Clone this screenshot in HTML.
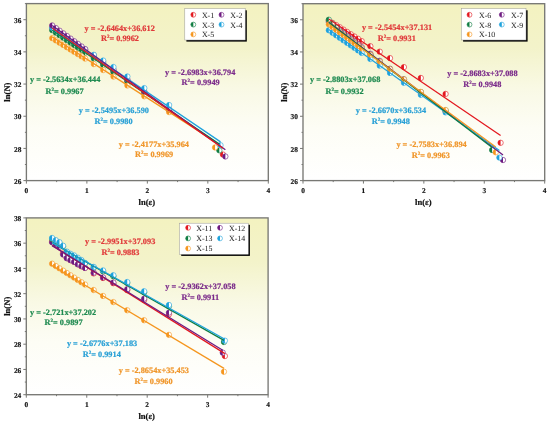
<!DOCTYPE html><html><head><meta charset="utf-8"><style>html,body{margin:0;padding:0;background:#fff;}svg{display:block;will-change:transform;}text{font-family:"Liberation Serif",serif;text-rendering:geometricPrecision;}</style></head><body><svg width="550" height="425" viewBox="0 0 550 425"><defs><linearGradient id="bg" x1="0" y1="0" x2="0" y2="1"><stop offset="0" stop-color="#f3f2c0"/><stop offset="0.25" stop-color="#f3f3ca"/><stop offset="0.48" stop-color="#f9f9e5"/><stop offset="0.7" stop-color="#fdfdf5"/><stop offset="1" stop-color="#ffffff"/></linearGradient></defs><rect width="550" height="425" fill="#fff"/><rect x="26.4" y="3.6" width="241.90" height="177.00" fill="url(#bg)"/><circle cx="52.22" cy="28.03" r="2.7" fill="#fff" stroke="#e3171e" stroke-width="0.6"/><path d="M52.22,25.33A2.7,2.7 0 0 0 52.22,30.73Z" fill="#e3171e"/><circle cx="55.88" cy="30.60" r="2.7" fill="#fff" stroke="#e3171e" stroke-width="0.6"/><path d="M55.88,27.90A2.7,2.7 0 0 0 55.88,33.30Z" fill="#e3171e"/><circle cx="59.54" cy="33.18" r="2.7" fill="#fff" stroke="#e3171e" stroke-width="0.6"/><path d="M59.54,30.48A2.7,2.7 0 0 0 59.54,35.88Z" fill="#e3171e"/><circle cx="63.20" cy="35.76" r="2.7" fill="#fff" stroke="#e3171e" stroke-width="0.6"/><path d="M63.20,33.06A2.7,2.7 0 0 0 63.20,38.46Z" fill="#e3171e"/><circle cx="66.86" cy="38.33" r="2.7" fill="#fff" stroke="#e3171e" stroke-width="0.6"/><path d="M66.86,35.63A2.7,2.7 0 0 0 66.86,41.03Z" fill="#e3171e"/><circle cx="70.52" cy="40.91" r="2.7" fill="#fff" stroke="#e3171e" stroke-width="0.6"/><path d="M70.52,38.21A2.7,2.7 0 0 0 70.52,43.61Z" fill="#e3171e"/><circle cx="74.18" cy="43.48" r="2.7" fill="#fff" stroke="#e3171e" stroke-width="0.6"/><path d="M74.18,40.78A2.7,2.7 0 0 0 74.18,46.18Z" fill="#e3171e"/><circle cx="77.83" cy="46.06" r="2.7" fill="#fff" stroke="#e3171e" stroke-width="0.6"/><path d="M77.83,43.36A2.7,2.7 0 0 0 77.83,48.76Z" fill="#e3171e"/><circle cx="81.49" cy="48.64" r="2.7" fill="#fff" stroke="#e3171e" stroke-width="0.6"/><path d="M81.49,45.94A2.7,2.7 0 0 0 81.49,51.34Z" fill="#e3171e"/><circle cx="85.15" cy="51.21" r="2.7" fill="#fff" stroke="#e3171e" stroke-width="0.6"/><path d="M85.15,48.51A2.7,2.7 0 0 0 85.15,53.91Z" fill="#e3171e"/><circle cx="93.83" cy="57.32" r="2.7" fill="#fff" stroke="#e3171e" stroke-width="0.6"/><path d="M93.83,54.62A2.7,2.7 0 0 0 93.83,60.02Z" fill="#e3171e"/><circle cx="103.20" cy="63.92" r="2.7" fill="#fff" stroke="#e3171e" stroke-width="0.6"/><path d="M103.20,61.22A2.7,2.7 0 0 0 103.20,66.62Z" fill="#e3171e"/><circle cx="113.48" cy="71.16" r="2.7" fill="#fff" stroke="#e3171e" stroke-width="0.6"/><path d="M113.48,68.46A2.7,2.7 0 0 0 113.48,73.86Z" fill="#e3171e"/><circle cx="127.39" cy="80.96" r="2.7" fill="#fff" stroke="#e3171e" stroke-width="0.6"/><path d="M127.39,78.26A2.7,2.7 0 0 0 127.39,83.66Z" fill="#e3171e"/><circle cx="144.33" cy="92.88" r="2.7" fill="#fff" stroke="#e3171e" stroke-width="0.6"/><path d="M144.33,90.18A2.7,2.7 0 0 0 144.33,95.58Z" fill="#e3171e"/><circle cx="169.12" cy="110.34" r="2.7" fill="#fff" stroke="#e3171e" stroke-width="0.6"/><path d="M169.12,107.64A2.7,2.7 0 0 0 169.12,113.04Z" fill="#e3171e"/><circle cx="222.94" cy="154.53" r="2.7" fill="#fff" stroke="#e3171e" stroke-width="0.6"/><path d="M222.94,151.83A2.7,2.7 0 0 0 222.94,157.23Z" fill="#e3171e"/><circle cx="52.22" cy="30.16" r="2.7" fill="#fff" stroke="#0f7d42" stroke-width="0.6"/><path d="M52.22,27.46A2.7,2.7 0 0 0 52.22,32.86Z" fill="#0f7d42"/><circle cx="55.88" cy="32.65" r="2.7" fill="#fff" stroke="#0f7d42" stroke-width="0.6"/><path d="M55.88,29.95A2.7,2.7 0 0 0 55.88,35.35Z" fill="#0f7d42"/><circle cx="59.54" cy="35.15" r="2.7" fill="#fff" stroke="#0f7d42" stroke-width="0.6"/><path d="M59.54,32.45A2.7,2.7 0 0 0 59.54,37.85Z" fill="#0f7d42"/><circle cx="63.20" cy="37.65" r="2.7" fill="#fff" stroke="#0f7d42" stroke-width="0.6"/><path d="M63.20,34.95A2.7,2.7 0 0 0 63.20,40.35Z" fill="#0f7d42"/><circle cx="66.86" cy="40.14" r="2.7" fill="#fff" stroke="#0f7d42" stroke-width="0.6"/><path d="M66.86,37.44A2.7,2.7 0 0 0 66.86,42.84Z" fill="#0f7d42"/><circle cx="70.52" cy="42.64" r="2.7" fill="#fff" stroke="#0f7d42" stroke-width="0.6"/><path d="M70.52,39.94A2.7,2.7 0 0 0 70.52,45.34Z" fill="#0f7d42"/><circle cx="74.18" cy="45.13" r="2.7" fill="#fff" stroke="#0f7d42" stroke-width="0.6"/><path d="M74.18,42.43A2.7,2.7 0 0 0 74.18,47.83Z" fill="#0f7d42"/><circle cx="77.83" cy="47.63" r="2.7" fill="#fff" stroke="#0f7d42" stroke-width="0.6"/><path d="M77.83,44.93A2.7,2.7 0 0 0 77.83,50.33Z" fill="#0f7d42"/><circle cx="81.49" cy="50.12" r="2.7" fill="#fff" stroke="#0f7d42" stroke-width="0.6"/><path d="M81.49,47.42A2.7,2.7 0 0 0 81.49,52.82Z" fill="#0f7d42"/><circle cx="85.15" cy="52.62" r="2.7" fill="#fff" stroke="#0f7d42" stroke-width="0.6"/><path d="M85.15,49.92A2.7,2.7 0 0 0 85.15,55.32Z" fill="#0f7d42"/><circle cx="93.83" cy="58.54" r="2.7" fill="#fff" stroke="#0f7d42" stroke-width="0.6"/><path d="M93.83,55.84A2.7,2.7 0 0 0 93.83,61.24Z" fill="#0f7d42"/><circle cx="103.20" cy="64.93" r="2.7" fill="#fff" stroke="#0f7d42" stroke-width="0.6"/><path d="M103.20,62.23A2.7,2.7 0 0 0 103.20,67.63Z" fill="#0f7d42"/><circle cx="113.48" cy="71.94" r="2.7" fill="#fff" stroke="#0f7d42" stroke-width="0.6"/><path d="M113.48,69.24A2.7,2.7 0 0 0 113.48,74.64Z" fill="#0f7d42"/><circle cx="127.39" cy="81.43" r="2.7" fill="#fff" stroke="#0f7d42" stroke-width="0.6"/><path d="M127.39,78.73A2.7,2.7 0 0 0 127.39,84.13Z" fill="#0f7d42"/><circle cx="144.33" cy="92.98" r="2.7" fill="#fff" stroke="#0f7d42" stroke-width="0.6"/><path d="M144.33,90.28A2.7,2.7 0 0 0 144.33,95.68Z" fill="#0f7d42"/><circle cx="169.12" cy="109.89" r="2.7" fill="#fff" stroke="#0f7d42" stroke-width="0.6"/><path d="M169.12,107.19A2.7,2.7 0 0 0 169.12,112.59Z" fill="#0f7d42"/><circle cx="219.32" cy="150.35" r="2.7" fill="#fff" stroke="#0f7d42" stroke-width="0.6"/><path d="M219.32,147.65A2.7,2.7 0 0 0 219.32,153.05Z" fill="#0f7d42"/><circle cx="52.22" cy="27.69" r="2.7" fill="#fff" stroke="#1ea2dc" stroke-width="0.6"/><path d="M52.22,24.99A2.7,2.7 0 0 0 52.22,30.39Z" fill="#1ea2dc"/><circle cx="55.88" cy="30.10" r="2.7" fill="#fff" stroke="#1ea2dc" stroke-width="0.6"/><path d="M55.88,27.40A2.7,2.7 0 0 0 55.88,32.80Z" fill="#1ea2dc"/><circle cx="59.54" cy="32.52" r="2.7" fill="#fff" stroke="#1ea2dc" stroke-width="0.6"/><path d="M59.54,29.82A2.7,2.7 0 0 0 59.54,35.22Z" fill="#1ea2dc"/><circle cx="63.20" cy="34.94" r="2.7" fill="#fff" stroke="#1ea2dc" stroke-width="0.6"/><path d="M63.20,32.24A2.7,2.7 0 0 0 63.20,37.64Z" fill="#1ea2dc"/><circle cx="66.86" cy="37.35" r="2.7" fill="#fff" stroke="#1ea2dc" stroke-width="0.6"/><path d="M66.86,34.65A2.7,2.7 0 0 0 66.86,40.05Z" fill="#1ea2dc"/><circle cx="70.52" cy="39.77" r="2.7" fill="#fff" stroke="#1ea2dc" stroke-width="0.6"/><path d="M70.52,37.07A2.7,2.7 0 0 0 70.52,42.47Z" fill="#1ea2dc"/><circle cx="74.18" cy="42.19" r="2.7" fill="#fff" stroke="#1ea2dc" stroke-width="0.6"/><path d="M74.18,39.49A2.7,2.7 0 0 0 74.18,44.89Z" fill="#1ea2dc"/><circle cx="77.83" cy="44.60" r="2.7" fill="#fff" stroke="#1ea2dc" stroke-width="0.6"/><path d="M77.83,41.90A2.7,2.7 0 0 0 77.83,47.30Z" fill="#1ea2dc"/><circle cx="81.49" cy="47.02" r="2.7" fill="#fff" stroke="#1ea2dc" stroke-width="0.6"/><path d="M81.49,44.32A2.7,2.7 0 0 0 81.49,49.72Z" fill="#1ea2dc"/><circle cx="85.15" cy="49.44" r="2.7" fill="#fff" stroke="#1ea2dc" stroke-width="0.6"/><path d="M85.15,46.74A2.7,2.7 0 0 0 85.15,52.14Z" fill="#1ea2dc"/><circle cx="52.22" cy="38.13" r="2.7" fill="#fff" stroke="#f5961e" stroke-width="0.6"/><path d="M52.22,35.43A2.7,2.7 0 0 0 52.22,40.83Z" fill="#f5961e"/><circle cx="55.88" cy="40.41" r="2.7" fill="#fff" stroke="#f5961e" stroke-width="0.6"/><path d="M55.88,37.71A2.7,2.7 0 0 0 55.88,43.11Z" fill="#f5961e"/><circle cx="59.54" cy="42.68" r="2.7" fill="#fff" stroke="#f5961e" stroke-width="0.6"/><path d="M59.54,39.98A2.7,2.7 0 0 0 59.54,45.38Z" fill="#f5961e"/><circle cx="63.20" cy="44.95" r="2.7" fill="#fff" stroke="#f5961e" stroke-width="0.6"/><path d="M63.20,42.25A2.7,2.7 0 0 0 63.20,47.65Z" fill="#f5961e"/><circle cx="66.86" cy="47.22" r="2.7" fill="#fff" stroke="#f5961e" stroke-width="0.6"/><path d="M66.86,44.52A2.7,2.7 0 0 0 66.86,49.92Z" fill="#f5961e"/><circle cx="70.52" cy="49.50" r="2.7" fill="#fff" stroke="#f5961e" stroke-width="0.6"/><path d="M70.52,46.80A2.7,2.7 0 0 0 70.52,52.20Z" fill="#f5961e"/><circle cx="74.18" cy="51.77" r="2.7" fill="#fff" stroke="#f5961e" stroke-width="0.6"/><path d="M74.18,49.07A2.7,2.7 0 0 0 74.18,54.47Z" fill="#f5961e"/><circle cx="77.83" cy="54.04" r="2.7" fill="#fff" stroke="#f5961e" stroke-width="0.6"/><path d="M77.83,51.34A2.7,2.7 0 0 0 77.83,56.74Z" fill="#f5961e"/><circle cx="81.49" cy="56.31" r="2.7" fill="#fff" stroke="#f5961e" stroke-width="0.6"/><path d="M81.49,53.61A2.7,2.7 0 0 0 81.49,59.01Z" fill="#f5961e"/><circle cx="85.15" cy="58.59" r="2.7" fill="#fff" stroke="#f5961e" stroke-width="0.6"/><path d="M85.15,55.89A2.7,2.7 0 0 0 85.15,61.29Z" fill="#f5961e"/><circle cx="93.83" cy="64.09" r="2.7" fill="#fff" stroke="#f5961e" stroke-width="0.6"/><path d="M93.83,61.39A2.7,2.7 0 0 0 93.83,66.79Z" fill="#f5961e"/><circle cx="103.20" cy="70.07" r="2.7" fill="#fff" stroke="#f5961e" stroke-width="0.6"/><path d="M103.20,67.37A2.7,2.7 0 0 0 103.20,72.77Z" fill="#f5961e"/><circle cx="113.48" cy="76.62" r="2.7" fill="#fff" stroke="#f5961e" stroke-width="0.6"/><path d="M113.48,73.92A2.7,2.7 0 0 0 113.48,79.32Z" fill="#f5961e"/><circle cx="127.39" cy="85.49" r="2.7" fill="#fff" stroke="#f5961e" stroke-width="0.6"/><path d="M127.39,82.79A2.7,2.7 0 0 0 127.39,88.19Z" fill="#f5961e"/><circle cx="144.33" cy="96.29" r="2.7" fill="#fff" stroke="#f5961e" stroke-width="0.6"/><path d="M144.33,93.59A2.7,2.7 0 0 0 144.33,98.99Z" fill="#f5961e"/><circle cx="169.12" cy="112.10" r="2.7" fill="#fff" stroke="#f5961e" stroke-width="0.6"/><path d="M169.12,109.40A2.7,2.7 0 0 0 169.12,114.80Z" fill="#f5961e"/><circle cx="215.08" cy="147.45" r="2.7" fill="#fff" stroke="#f5961e" stroke-width="0.6"/><path d="M215.08,144.75A2.7,2.7 0 0 0 215.08,150.15Z" fill="#f5961e"/><circle cx="52.22" cy="25.45" r="2.7" fill="#fff" stroke="#6e1a80" stroke-width="0.6"/><path d="M52.22,22.75A2.7,2.7 0 0 0 52.22,28.15Z" fill="#6e1a80"/><circle cx="55.88" cy="28.08" r="2.7" fill="#fff" stroke="#6e1a80" stroke-width="0.6"/><path d="M55.88,25.38A2.7,2.7 0 0 0 55.88,30.78Z" fill="#6e1a80"/><circle cx="59.54" cy="30.71" r="2.7" fill="#fff" stroke="#6e1a80" stroke-width="0.6"/><path d="M59.54,28.01A2.7,2.7 0 0 0 59.54,33.41Z" fill="#6e1a80"/><circle cx="63.20" cy="33.33" r="2.7" fill="#fff" stroke="#6e1a80" stroke-width="0.6"/><path d="M63.20,30.63A2.7,2.7 0 0 0 63.20,36.03Z" fill="#6e1a80"/><circle cx="66.86" cy="35.96" r="2.7" fill="#fff" stroke="#6e1a80" stroke-width="0.6"/><path d="M66.86,33.26A2.7,2.7 0 0 0 66.86,38.66Z" fill="#6e1a80"/><circle cx="70.52" cy="38.59" r="2.7" fill="#fff" stroke="#6e1a80" stroke-width="0.6"/><path d="M70.52,35.89A2.7,2.7 0 0 0 70.52,41.29Z" fill="#6e1a80"/><circle cx="74.18" cy="41.22" r="2.7" fill="#fff" stroke="#6e1a80" stroke-width="0.6"/><path d="M74.18,38.52A2.7,2.7 0 0 0 74.18,43.92Z" fill="#6e1a80"/><circle cx="77.83" cy="43.84" r="2.7" fill="#fff" stroke="#6e1a80" stroke-width="0.6"/><path d="M77.83,41.14A2.7,2.7 0 0 0 77.83,46.54Z" fill="#6e1a80"/><circle cx="81.49" cy="46.47" r="2.7" fill="#fff" stroke="#6e1a80" stroke-width="0.6"/><path d="M81.49,43.77A2.7,2.7 0 0 0 81.49,49.17Z" fill="#6e1a80"/><circle cx="85.15" cy="49.10" r="2.7" fill="#fff" stroke="#6e1a80" stroke-width="0.6"/><path d="M85.15,46.40A2.7,2.7 0 0 0 85.15,51.80Z" fill="#6e1a80"/><circle cx="93.83" cy="55.33" r="2.7" fill="#fff" stroke="#6e1a80" stroke-width="0.6"/><path d="M93.83,52.63A2.7,2.7 0 0 0 93.83,58.03Z" fill="#6e1a80"/><circle cx="103.20" cy="62.06" r="2.7" fill="#fff" stroke="#6e1a80" stroke-width="0.6"/><path d="M103.20,59.36A2.7,2.7 0 0 0 103.20,64.76Z" fill="#6e1a80"/><circle cx="113.48" cy="69.44" r="2.7" fill="#fff" stroke="#6e1a80" stroke-width="0.6"/><path d="M113.48,66.74A2.7,2.7 0 0 0 113.48,72.14Z" fill="#6e1a80"/><circle cx="127.39" cy="79.42" r="2.7" fill="#fff" stroke="#6e1a80" stroke-width="0.6"/><path d="M127.39,76.72A2.7,2.7 0 0 0 127.39,82.12Z" fill="#6e1a80"/><circle cx="144.33" cy="91.58" r="2.7" fill="#fff" stroke="#6e1a80" stroke-width="0.6"/><path d="M144.33,88.88A2.7,2.7 0 0 0 144.33,94.28Z" fill="#6e1a80"/><circle cx="169.12" cy="109.38" r="2.7" fill="#fff" stroke="#6e1a80" stroke-width="0.6"/><path d="M169.12,106.68A2.7,2.7 0 0 0 169.12,112.08Z" fill="#6e1a80"/><circle cx="225.36" cy="156.46" r="2.7" fill="#fff" stroke="#6e1a80" stroke-width="0.6"/><path d="M225.36,153.76A2.7,2.7 0 0 0 225.36,159.16Z" fill="#6e1a80"/><circle cx="93.83" cy="54.83" r="2.7" fill="#fff" stroke="#1ea2dc" stroke-width="0.6"/><path d="M93.83,52.13A2.7,2.7 0 0 0 93.83,57.53Z" fill="#1ea2dc"/><circle cx="103.20" cy="60.57" r="2.7" fill="#fff" stroke="#1ea2dc" stroke-width="0.6"/><path d="M103.20,57.87A2.7,2.7 0 0 0 103.20,63.27Z" fill="#1ea2dc"/><circle cx="113.48" cy="67.03" r="2.7" fill="#fff" stroke="#1ea2dc" stroke-width="0.6"/><path d="M113.48,64.33A2.7,2.7 0 0 0 113.48,69.73Z" fill="#1ea2dc"/><circle cx="127.39" cy="76.54" r="2.7" fill="#fff" stroke="#1ea2dc" stroke-width="0.6"/><path d="M127.39,73.84A2.7,2.7 0 0 0 127.39,79.24Z" fill="#1ea2dc"/><circle cx="144.33" cy="88.12" r="2.7" fill="#fff" stroke="#1ea2dc" stroke-width="0.6"/><path d="M144.33,85.42A2.7,2.7 0 0 0 144.33,90.82Z" fill="#1ea2dc"/><circle cx="169.12" cy="105.07" r="2.7" fill="#fff" stroke="#1ea2dc" stroke-width="0.6"/><path d="M169.12,102.37A2.7,2.7 0 0 0 169.12,107.77Z" fill="#1ea2dc"/><circle cx="220.52" cy="145.20" r="2.7" fill="#fff" stroke="#1ea2dc" stroke-width="0.6"/><path d="M220.52,142.50A2.7,2.7 0 0 0 220.52,147.90Z" fill="#1ea2dc"/><line x1="52.22" y1="36.88" x2="215.08" y2="141.65" stroke="#f5961e" stroke-width="1.25"/><line x1="52.22" y1="30.16" x2="219.32" y2="144.13" stroke="#0f7d42" stroke-width="1.25"/><line x1="52.22" y1="27.71" x2="220.52" y2="141.88" stroke="#1ea2dc" stroke-width="1.25"/><line x1="52.22" y1="25.45" x2="225.36" y2="149.76" stroke="#6e1a80" stroke-width="1.25"/><line x1="52.22" y1="28.03" x2="222.94" y2="148.24" stroke="#e3171e" stroke-width="1.25"/><rect x="26.4" y="3.6" width="241.90" height="177.00" fill="none" stroke="#787874" stroke-width="1.35"/><path d="M26.40,180.60v3.0M56.64,180.60v1.5M86.88,180.60v3.0M117.11,180.60v1.5M147.35,180.60v3.0M177.59,180.60v1.5M207.83,180.60v3.0M238.06,180.60v1.5M268.30,180.60v3.0M26.40,180.60h-3.0M26.40,164.51h-1.5M26.40,148.42h-3.0M26.40,132.33h-1.5M26.40,116.24h-3.0M26.40,100.15h-1.5M26.40,84.05h-3.0M26.40,67.96h-1.5M26.40,51.87h-3.0M26.40,35.78h-1.5M26.40,19.69h-3.0M26.40,3.60h-1.5" stroke="#787874" stroke-width="1" fill="none"/><text x="26.40" y="193.20" font-size="7.4" font-weight="bold" text-anchor="middle" fill="#111" stroke="#111" stroke-width="0.15">0</text><text x="86.88" y="193.20" font-size="7.4" font-weight="bold" text-anchor="middle" fill="#111" stroke="#111" stroke-width="0.15">1</text><text x="147.35" y="193.20" font-size="7.4" font-weight="bold" text-anchor="middle" fill="#111" stroke="#111" stroke-width="0.15">2</text><text x="207.83" y="193.20" font-size="7.4" font-weight="bold" text-anchor="middle" fill="#111" stroke="#111" stroke-width="0.15">3</text><text x="268.30" y="193.20" font-size="7.4" font-weight="bold" text-anchor="middle" fill="#111" stroke="#111" stroke-width="0.15">4</text><text x="21.40" y="183.80" font-size="7.4" font-weight="bold" text-anchor="end" fill="#111" stroke="#111" stroke-width="0.15">26</text><text x="21.40" y="151.62" font-size="7.4" font-weight="bold" text-anchor="end" fill="#111" stroke="#111" stroke-width="0.15">28</text><text x="21.40" y="119.44" font-size="7.4" font-weight="bold" text-anchor="end" fill="#111" stroke="#111" stroke-width="0.15">30</text><text x="21.40" y="87.25" font-size="7.4" font-weight="bold" text-anchor="end" fill="#111" stroke="#111" stroke-width="0.15">32</text><text x="21.40" y="55.07" font-size="7.4" font-weight="bold" text-anchor="end" fill="#111" stroke="#111" stroke-width="0.15">34</text><text x="21.40" y="22.89" font-size="7.4" font-weight="bold" text-anchor="end" fill="#111" stroke="#111" stroke-width="0.15">36</text><text x="146.85" y="204.80" font-size="8.6" font-weight="bold" text-anchor="middle" fill="#111" stroke="#111" stroke-width="0.2">ln(ε)</text><text transform="translate(10.30,92.10) rotate(-90)" font-size="8.6" font-weight="bold" text-anchor="middle" fill="#111" stroke="#111" stroke-width="0.2">ln(N)</text><text x="84.50" y="30.60" font-size="8.3" font-weight="bold" fill="#e03a3a" stroke="#e03a3a" stroke-width="0.2">y = -2.6464x+36.612</text><text x="100.90" y="40.60" font-size="8.3" font-weight="bold" fill="#e03a3a" stroke="#e03a3a" stroke-width="0.2">R<tspan font-size="5" dy="-3">2</tspan><tspan dy="3">= 0.9962</tspan></text><text x="165.00" y="74.60" font-size="8.3" font-weight="bold" fill="#7a2a8a" stroke="#7a2a8a" stroke-width="0.2">y = -2.6983x+36.794</text><text x="181.60" y="85.00" font-size="8.3" font-weight="bold" fill="#7a2a8a" stroke="#7a2a8a" stroke-width="0.2">R<tspan font-size="5" dy="-3">2</tspan><tspan dy="3">= 0.9949</tspan></text><text x="30.00" y="82.00" font-size="8.3" font-weight="bold" fill="#1e8a50" stroke="#1e8a50" stroke-width="0.2">y = -2.5634x+36.444</text><text x="45.50" y="93.80" font-size="8.3" font-weight="bold" fill="#1e8a50" stroke="#1e8a50" stroke-width="0.2">R<tspan font-size="5" dy="-3">2</tspan><tspan dy="3">= 0.9967</tspan></text><text x="78.70" y="112.90" font-size="8.3" font-weight="bold" fill="#28a0d6" stroke="#28a0d6" stroke-width="0.2">y = -2.5495x+36.590</text><text x="94.50" y="123.80" font-size="8.3" font-weight="bold" fill="#28a0d6" stroke="#28a0d6" stroke-width="0.2">R<tspan font-size="5" dy="-3">2</tspan><tspan dy="3">= 0.9980</tspan></text><text x="118.70" y="147.00" font-size="8.3" font-weight="bold" fill="#f0962a" stroke="#f0962a" stroke-width="0.2">y = -2.4177x+35.964</text><text x="135.10" y="157.20" font-size="8.3" font-weight="bold" fill="#f0962a" stroke="#f0962a" stroke-width="0.2">R<tspan font-size="5" dy="-3">2</tspan><tspan dy="3">= 0.9969</tspan></text><rect x="186.40" y="10.30" width="60.40" height="31.30" fill="#000"/><rect x="184.80" y="8.70" width="60.40" height="31.30" fill="#fff" stroke="#999" stroke-width="0.5"/><circle cx="193.30" cy="14.80" r="2.45" fill="#fff" stroke="#e3171e" stroke-width="0.6"/><path d="M193.30,12.35A2.45,2.45 0 0 0 193.30,17.25Z" fill="#e3171e"/><text x="201.90" y="17.70" font-size="7.9" fill="#1a1a1a">X-1</text><circle cx="221.50" cy="14.80" r="2.45" fill="#fff" stroke="#6e1a80" stroke-width="0.6"/><path d="M221.50,12.35A2.45,2.45 0 0 0 221.50,17.25Z" fill="#6e1a80"/><text x="230.20" y="17.70" font-size="7.9" fill="#1a1a1a">X-2</text><circle cx="193.30" cy="24.60" r="2.45" fill="#fff" stroke="#0f7d42" stroke-width="0.6"/><path d="M193.30,22.15A2.45,2.45 0 0 0 193.30,27.05Z" fill="#0f7d42"/><text x="201.90" y="27.50" font-size="7.9" fill="#1a1a1a">X-3</text><circle cx="221.50" cy="24.60" r="2.45" fill="#fff" stroke="#1ea2dc" stroke-width="0.6"/><path d="M221.50,22.15A2.45,2.45 0 0 0 221.50,27.05Z" fill="#1ea2dc"/><text x="230.20" y="27.50" font-size="7.9" fill="#1a1a1a">X-4</text><circle cx="193.30" cy="34.40" r="2.45" fill="#fff" stroke="#f5961e" stroke-width="0.6"/><path d="M193.30,31.95A2.45,2.45 0 0 0 193.30,36.85Z" fill="#f5961e"/><text x="201.90" y="37.30" font-size="7.9" fill="#1a1a1a">X-5</text><rect x="303.0" y="3.7" width="241.70" height="176.90" fill="url(#bg)"/><circle cx="328.80" cy="20.57" r="2.7" fill="#fff" stroke="#e3171e" stroke-width="0.6"/><path d="M328.80,17.87A2.7,2.7 0 0 0 328.80,23.27Z" fill="#e3171e"/><circle cx="332.46" cy="22.81" r="2.7" fill="#fff" stroke="#e3171e" stroke-width="0.6"/><path d="M332.46,20.11A2.7,2.7 0 0 0 332.46,25.51Z" fill="#e3171e"/><circle cx="336.11" cy="25.04" r="2.7" fill="#fff" stroke="#e3171e" stroke-width="0.6"/><path d="M336.11,22.34A2.7,2.7 0 0 0 336.11,27.74Z" fill="#e3171e"/><circle cx="339.77" cy="27.28" r="2.7" fill="#fff" stroke="#e3171e" stroke-width="0.6"/><path d="M339.77,24.58A2.7,2.7 0 0 0 339.77,29.98Z" fill="#e3171e"/><circle cx="343.42" cy="29.59" r="2.7" fill="#fff" stroke="#e3171e" stroke-width="0.6"/><path d="M343.42,26.89A2.7,2.7 0 0 0 343.42,32.29Z" fill="#e3171e"/><circle cx="347.08" cy="31.89" r="2.7" fill="#fff" stroke="#e3171e" stroke-width="0.6"/><path d="M347.08,29.19A2.7,2.7 0 0 0 347.08,34.59Z" fill="#e3171e"/><circle cx="350.74" cy="34.20" r="2.7" fill="#fff" stroke="#e3171e" stroke-width="0.6"/><path d="M350.74,31.50A2.7,2.7 0 0 0 350.74,36.90Z" fill="#e3171e"/><circle cx="354.39" cy="36.51" r="2.7" fill="#fff" stroke="#e3171e" stroke-width="0.6"/><path d="M354.39,33.81A2.7,2.7 0 0 0 354.39,39.21Z" fill="#e3171e"/><circle cx="358.05" cy="38.81" r="2.7" fill="#fff" stroke="#e3171e" stroke-width="0.6"/><path d="M358.05,36.11A2.7,2.7 0 0 0 358.05,41.51Z" fill="#e3171e"/><circle cx="361.70" cy="41.12" r="2.7" fill="#fff" stroke="#e3171e" stroke-width="0.6"/><path d="M361.70,38.42A2.7,2.7 0 0 0 361.70,43.82Z" fill="#e3171e"/><circle cx="370.37" cy="46.24" r="2.7" fill="#fff" stroke="#e3171e" stroke-width="0.6"/><path d="M370.37,43.54A2.7,2.7 0 0 0 370.37,48.94Z" fill="#e3171e"/><circle cx="379.74" cy="51.67" r="2.7" fill="#fff" stroke="#e3171e" stroke-width="0.6"/><path d="M379.74,48.97A2.7,2.7 0 0 0 379.74,54.37Z" fill="#e3171e"/><circle cx="390.01" cy="58.16" r="2.7" fill="#fff" stroke="#e3171e" stroke-width="0.6"/><path d="M390.01,55.46A2.7,2.7 0 0 0 390.01,60.86Z" fill="#e3171e"/><circle cx="403.91" cy="67.11" r="2.7" fill="#fff" stroke="#e3171e" stroke-width="0.6"/><path d="M403.91,64.41A2.7,2.7 0 0 0 403.91,69.81Z" fill="#e3171e"/><circle cx="420.83" cy="77.99" r="2.7" fill="#fff" stroke="#e3171e" stroke-width="0.6"/><path d="M420.83,75.29A2.7,2.7 0 0 0 420.83,80.69Z" fill="#e3171e"/><circle cx="445.60" cy="93.94" r="2.7" fill="#fff" stroke="#e3171e" stroke-width="0.6"/><path d="M445.60,91.24A2.7,2.7 0 0 0 445.60,96.64Z" fill="#e3171e"/><circle cx="500.59" cy="142.81" r="2.7" fill="#fff" stroke="#e3171e" stroke-width="0.6"/><path d="M500.59,140.11A2.7,2.7 0 0 0 500.59,145.51Z" fill="#e3171e"/><circle cx="328.80" cy="21.98" r="2.7" fill="#fff" stroke="#6e1a80" stroke-width="0.6"/><path d="M328.80,19.28A2.7,2.7 0 0 0 328.80,24.68Z" fill="#6e1a80"/><circle cx="332.46" cy="24.77" r="2.7" fill="#fff" stroke="#6e1a80" stroke-width="0.6"/><path d="M332.46,22.07A2.7,2.7 0 0 0 332.46,27.47Z" fill="#6e1a80"/><circle cx="336.11" cy="27.56" r="2.7" fill="#fff" stroke="#6e1a80" stroke-width="0.6"/><path d="M336.11,24.86A2.7,2.7 0 0 0 336.11,30.26Z" fill="#6e1a80"/><circle cx="339.77" cy="30.35" r="2.7" fill="#fff" stroke="#6e1a80" stroke-width="0.6"/><path d="M339.77,27.65A2.7,2.7 0 0 0 339.77,33.05Z" fill="#6e1a80"/><circle cx="343.42" cy="33.14" r="2.7" fill="#fff" stroke="#6e1a80" stroke-width="0.6"/><path d="M343.42,30.44A2.7,2.7 0 0 0 343.42,35.84Z" fill="#6e1a80"/><circle cx="347.08" cy="35.93" r="2.7" fill="#fff" stroke="#6e1a80" stroke-width="0.6"/><path d="M347.08,33.23A2.7,2.7 0 0 0 347.08,38.63Z" fill="#6e1a80"/><circle cx="350.74" cy="38.73" r="2.7" fill="#fff" stroke="#6e1a80" stroke-width="0.6"/><path d="M350.74,36.03A2.7,2.7 0 0 0 350.74,41.43Z" fill="#6e1a80"/><circle cx="354.39" cy="41.52" r="2.7" fill="#fff" stroke="#6e1a80" stroke-width="0.6"/><path d="M354.39,38.82A2.7,2.7 0 0 0 354.39,44.22Z" fill="#6e1a80"/><circle cx="358.05" cy="44.31" r="2.7" fill="#fff" stroke="#6e1a80" stroke-width="0.6"/><path d="M358.05,41.61A2.7,2.7 0 0 0 358.05,47.01Z" fill="#6e1a80"/><circle cx="361.70" cy="47.10" r="2.7" fill="#fff" stroke="#6e1a80" stroke-width="0.6"/><path d="M361.70,44.40A2.7,2.7 0 0 0 361.70,49.80Z" fill="#6e1a80"/><circle cx="370.37" cy="53.72" r="2.7" fill="#fff" stroke="#6e1a80" stroke-width="0.6"/><path d="M370.37,51.02A2.7,2.7 0 0 0 370.37,56.42Z" fill="#6e1a80"/><circle cx="379.74" cy="60.87" r="2.7" fill="#fff" stroke="#6e1a80" stroke-width="0.6"/><path d="M379.74,58.17A2.7,2.7 0 0 0 379.74,63.57Z" fill="#6e1a80"/><circle cx="390.01" cy="68.71" r="2.7" fill="#fff" stroke="#6e1a80" stroke-width="0.6"/><path d="M390.01,66.01A2.7,2.7 0 0 0 390.01,71.41Z" fill="#6e1a80"/><circle cx="403.91" cy="79.32" r="2.7" fill="#fff" stroke="#6e1a80" stroke-width="0.6"/><path d="M403.91,76.62A2.7,2.7 0 0 0 403.91,82.02Z" fill="#6e1a80"/><circle cx="420.83" cy="92.23" r="2.7" fill="#fff" stroke="#6e1a80" stroke-width="0.6"/><path d="M420.83,89.53A2.7,2.7 0 0 0 420.83,94.93Z" fill="#6e1a80"/><circle cx="445.60" cy="111.15" r="2.7" fill="#fff" stroke="#6e1a80" stroke-width="0.6"/><path d="M445.60,108.45A2.7,2.7 0 0 0 445.60,113.85Z" fill="#6e1a80"/><circle cx="503.01" cy="160.02" r="2.7" fill="#fff" stroke="#6e1a80" stroke-width="0.6"/><path d="M503.01,157.32A2.7,2.7 0 0 0 503.01,162.72Z" fill="#6e1a80"/><circle cx="328.80" cy="19.71" r="2.7" fill="#fff" stroke="#0f7d42" stroke-width="0.6"/><path d="M328.80,17.01A2.7,2.7 0 0 0 328.80,22.41Z" fill="#0f7d42"/><circle cx="332.46" cy="23.73" r="2.7" fill="#fff" stroke="#0f7d42" stroke-width="0.6"/><path d="M332.46,21.03A2.7,2.7 0 0 0 332.46,26.43Z" fill="#0f7d42"/><circle cx="336.11" cy="27.75" r="2.7" fill="#fff" stroke="#0f7d42" stroke-width="0.6"/><path d="M336.11,25.05A2.7,2.7 0 0 0 336.11,30.45Z" fill="#0f7d42"/><circle cx="339.77" cy="31.60" r="2.7" fill="#fff" stroke="#0f7d42" stroke-width="0.6"/><path d="M339.77,28.90A2.7,2.7 0 0 0 339.77,34.30Z" fill="#0f7d42"/><circle cx="343.42" cy="34.40" r="2.7" fill="#fff" stroke="#0f7d42" stroke-width="0.6"/><path d="M343.42,31.70A2.7,2.7 0 0 0 343.42,37.10Z" fill="#0f7d42"/><circle cx="347.08" cy="37.20" r="2.7" fill="#fff" stroke="#0f7d42" stroke-width="0.6"/><path d="M347.08,34.50A2.7,2.7 0 0 0 347.08,39.90Z" fill="#0f7d42"/><circle cx="350.74" cy="40.00" r="2.7" fill="#fff" stroke="#0f7d42" stroke-width="0.6"/><path d="M350.74,37.30A2.7,2.7 0 0 0 350.74,42.70Z" fill="#0f7d42"/><circle cx="354.39" cy="42.81" r="2.7" fill="#fff" stroke="#0f7d42" stroke-width="0.6"/><path d="M354.39,40.11A2.7,2.7 0 0 0 354.39,45.51Z" fill="#0f7d42"/><circle cx="358.05" cy="45.61" r="2.7" fill="#fff" stroke="#0f7d42" stroke-width="0.6"/><path d="M358.05,42.91A2.7,2.7 0 0 0 358.05,48.31Z" fill="#0f7d42"/><circle cx="361.70" cy="48.41" r="2.7" fill="#fff" stroke="#0f7d42" stroke-width="0.6"/><path d="M361.70,45.71A2.7,2.7 0 0 0 361.70,51.11Z" fill="#0f7d42"/><circle cx="370.37" cy="54.86" r="2.7" fill="#fff" stroke="#0f7d42" stroke-width="0.6"/><path d="M370.37,52.16A2.7,2.7 0 0 0 370.37,57.56Z" fill="#0f7d42"/><circle cx="379.74" cy="61.77" r="2.7" fill="#fff" stroke="#0f7d42" stroke-width="0.6"/><path d="M379.74,59.07A2.7,2.7 0 0 0 379.74,64.47Z" fill="#0f7d42"/><circle cx="390.01" cy="69.35" r="2.7" fill="#fff" stroke="#0f7d42" stroke-width="0.6"/><path d="M390.01,66.65A2.7,2.7 0 0 0 390.01,72.05Z" fill="#0f7d42"/><circle cx="403.91" cy="79.61" r="2.7" fill="#fff" stroke="#0f7d42" stroke-width="0.6"/><path d="M403.91,76.91A2.7,2.7 0 0 0 403.91,82.31Z" fill="#0f7d42"/><circle cx="420.83" cy="92.10" r="2.7" fill="#fff" stroke="#0f7d42" stroke-width="0.6"/><path d="M420.83,89.40A2.7,2.7 0 0 0 420.83,94.80Z" fill="#0f7d42"/><circle cx="445.60" cy="110.38" r="2.7" fill="#fff" stroke="#0f7d42" stroke-width="0.6"/><path d="M445.60,107.68A2.7,2.7 0 0 0 445.60,113.08Z" fill="#0f7d42"/><circle cx="492.13" cy="150.04" r="2.7" fill="#fff" stroke="#0f7d42" stroke-width="0.6"/><path d="M492.13,147.34A2.7,2.7 0 0 0 492.13,152.74Z" fill="#0f7d42"/><circle cx="328.80" cy="30.28" r="2.7" fill="#fff" stroke="#1ea2dc" stroke-width="0.6"/><path d="M328.80,27.58A2.7,2.7 0 0 0 328.80,32.98Z" fill="#1ea2dc"/><circle cx="332.46" cy="32.79" r="2.7" fill="#fff" stroke="#1ea2dc" stroke-width="0.6"/><path d="M332.46,30.09A2.7,2.7 0 0 0 332.46,35.49Z" fill="#1ea2dc"/><circle cx="336.11" cy="35.30" r="2.7" fill="#fff" stroke="#1ea2dc" stroke-width="0.6"/><path d="M336.11,32.60A2.7,2.7 0 0 0 336.11,38.00Z" fill="#1ea2dc"/><circle cx="339.77" cy="37.82" r="2.7" fill="#fff" stroke="#1ea2dc" stroke-width="0.6"/><path d="M339.77,35.12A2.7,2.7 0 0 0 339.77,40.52Z" fill="#1ea2dc"/><circle cx="343.42" cy="40.33" r="2.7" fill="#fff" stroke="#1ea2dc" stroke-width="0.6"/><path d="M343.42,37.63A2.7,2.7 0 0 0 343.42,43.03Z" fill="#1ea2dc"/><circle cx="347.08" cy="42.85" r="2.7" fill="#fff" stroke="#1ea2dc" stroke-width="0.6"/><path d="M347.08,40.15A2.7,2.7 0 0 0 347.08,45.55Z" fill="#1ea2dc"/><circle cx="350.74" cy="45.36" r="2.7" fill="#fff" stroke="#1ea2dc" stroke-width="0.6"/><path d="M350.74,42.66A2.7,2.7 0 0 0 350.74,48.06Z" fill="#1ea2dc"/><circle cx="354.39" cy="47.87" r="2.7" fill="#fff" stroke="#1ea2dc" stroke-width="0.6"/><path d="M354.39,45.17A2.7,2.7 0 0 0 354.39,50.57Z" fill="#1ea2dc"/><circle cx="358.05" cy="50.39" r="2.7" fill="#fff" stroke="#1ea2dc" stroke-width="0.6"/><path d="M358.05,47.69A2.7,2.7 0 0 0 358.05,53.09Z" fill="#1ea2dc"/><circle cx="361.70" cy="52.90" r="2.7" fill="#fff" stroke="#1ea2dc" stroke-width="0.6"/><path d="M361.70,50.20A2.7,2.7 0 0 0 361.70,55.60Z" fill="#1ea2dc"/><circle cx="370.37" cy="59.02" r="2.7" fill="#fff" stroke="#1ea2dc" stroke-width="0.6"/><path d="M370.37,56.32A2.7,2.7 0 0 0 370.37,61.72Z" fill="#1ea2dc"/><circle cx="379.74" cy="65.66" r="2.7" fill="#fff" stroke="#1ea2dc" stroke-width="0.6"/><path d="M379.74,62.96A2.7,2.7 0 0 0 379.74,68.36Z" fill="#1ea2dc"/><circle cx="390.01" cy="72.96" r="2.7" fill="#fff" stroke="#1ea2dc" stroke-width="0.6"/><path d="M390.01,70.26A2.7,2.7 0 0 0 390.01,75.66Z" fill="#1ea2dc"/><circle cx="403.91" cy="82.82" r="2.7" fill="#fff" stroke="#1ea2dc" stroke-width="0.6"/><path d="M403.91,80.12A2.7,2.7 0 0 0 403.91,85.52Z" fill="#1ea2dc"/><circle cx="420.83" cy="94.83" r="2.7" fill="#fff" stroke="#1ea2dc" stroke-width="0.6"/><path d="M420.83,92.13A2.7,2.7 0 0 0 420.83,97.53Z" fill="#1ea2dc"/><circle cx="445.60" cy="112.42" r="2.7" fill="#fff" stroke="#1ea2dc" stroke-width="0.6"/><path d="M445.60,109.72A2.7,2.7 0 0 0 445.60,115.12Z" fill="#1ea2dc"/><circle cx="499.38" cy="157.60" r="2.7" fill="#fff" stroke="#1ea2dc" stroke-width="0.6"/><path d="M499.38,154.90A2.7,2.7 0 0 0 499.38,160.30Z" fill="#1ea2dc"/><circle cx="328.80" cy="24.35" r="2.7" fill="#fff" stroke="#f5961e" stroke-width="0.6"/><path d="M328.80,21.65A2.7,2.7 0 0 0 328.80,27.05Z" fill="#f5961e"/><circle cx="332.46" cy="27.03" r="2.7" fill="#fff" stroke="#f5961e" stroke-width="0.6"/><path d="M332.46,24.33A2.7,2.7 0 0 0 332.46,29.73Z" fill="#f5961e"/><circle cx="336.11" cy="29.71" r="2.7" fill="#fff" stroke="#f5961e" stroke-width="0.6"/><path d="M336.11,27.01A2.7,2.7 0 0 0 336.11,32.41Z" fill="#f5961e"/><circle cx="339.77" cy="32.40" r="2.7" fill="#fff" stroke="#f5961e" stroke-width="0.6"/><path d="M339.77,29.70A2.7,2.7 0 0 0 339.77,35.10Z" fill="#f5961e"/><circle cx="343.42" cy="35.08" r="2.7" fill="#fff" stroke="#f5961e" stroke-width="0.6"/><path d="M343.42,32.38A2.7,2.7 0 0 0 343.42,37.78Z" fill="#f5961e"/><circle cx="347.08" cy="37.76" r="2.7" fill="#fff" stroke="#f5961e" stroke-width="0.6"/><path d="M347.08,35.06A2.7,2.7 0 0 0 347.08,40.46Z" fill="#f5961e"/><circle cx="350.74" cy="40.45" r="2.7" fill="#fff" stroke="#f5961e" stroke-width="0.6"/><path d="M350.74,37.75A2.7,2.7 0 0 0 350.74,43.15Z" fill="#f5961e"/><circle cx="354.39" cy="43.13" r="2.7" fill="#fff" stroke="#f5961e" stroke-width="0.6"/><path d="M354.39,40.43A2.7,2.7 0 0 0 354.39,45.83Z" fill="#f5961e"/><circle cx="358.05" cy="45.82" r="2.7" fill="#fff" stroke="#f5961e" stroke-width="0.6"/><path d="M358.05,43.12A2.7,2.7 0 0 0 358.05,48.52Z" fill="#f5961e"/><circle cx="361.70" cy="48.50" r="2.7" fill="#fff" stroke="#f5961e" stroke-width="0.6"/><path d="M361.70,45.80A2.7,2.7 0 0 0 361.70,51.20Z" fill="#f5961e"/><circle cx="370.37" cy="54.86" r="2.7" fill="#fff" stroke="#f5961e" stroke-width="0.6"/><path d="M370.37,52.16A2.7,2.7 0 0 0 370.37,57.56Z" fill="#f5961e"/><circle cx="379.74" cy="61.74" r="2.7" fill="#fff" stroke="#f5961e" stroke-width="0.6"/><path d="M379.74,59.04A2.7,2.7 0 0 0 379.74,64.44Z" fill="#f5961e"/><circle cx="390.01" cy="69.28" r="2.7" fill="#fff" stroke="#f5961e" stroke-width="0.6"/><path d="M390.01,66.58A2.7,2.7 0 0 0 390.01,71.98Z" fill="#f5961e"/><circle cx="403.91" cy="79.48" r="2.7" fill="#fff" stroke="#f5961e" stroke-width="0.6"/><path d="M403.91,76.78A2.7,2.7 0 0 0 403.91,82.18Z" fill="#f5961e"/><circle cx="420.83" cy="91.90" r="2.7" fill="#fff" stroke="#f5961e" stroke-width="0.6"/><path d="M420.83,89.20A2.7,2.7 0 0 0 420.83,94.60Z" fill="#f5961e"/><circle cx="445.60" cy="110.09" r="2.7" fill="#fff" stroke="#f5961e" stroke-width="0.6"/><path d="M445.60,107.39A2.7,2.7 0 0 0 445.60,112.79Z" fill="#f5961e"/><circle cx="495.76" cy="152.30" r="2.7" fill="#fff" stroke="#f5961e" stroke-width="0.6"/><path d="M495.76,149.60A2.7,2.7 0 0 0 495.76,155.00Z" fill="#f5961e"/><line x1="328.80" y1="21.98" x2="503.01" y2="154.97" stroke="#6e1a80" stroke-width="1.25"/><line x1="328.80" y1="29.51" x2="499.38" y2="150.59" stroke="#1ea2dc" stroke-width="1.25"/><line x1="328.80" y1="22.39" x2="492.13" y2="147.59" stroke="#0f7d42" stroke-width="1.25"/><line x1="328.80" y1="24.35" x2="495.76" y2="146.91" stroke="#f5961e" stroke-width="1.25"/><line x1="328.80" y1="19.07" x2="500.59" y2="135.45" stroke="#e3171e" stroke-width="1.25"/><rect x="303.0" y="3.7" width="241.70" height="176.90" fill="none" stroke="#787874" stroke-width="1.35"/><path d="M303.00,180.60v3.0M333.21,180.60v1.5M363.43,180.60v3.0M393.64,180.60v1.5M423.85,180.60v3.0M454.06,180.60v1.5M484.28,180.60v3.0M514.49,180.60v1.5M544.70,180.60v3.0M303.00,180.60h-3.0M303.00,164.52h-1.5M303.00,148.44h-3.0M303.00,132.35h-1.5M303.00,116.27h-3.0M303.00,100.19h-1.5M303.00,84.11h-3.0M303.00,68.03h-1.5M303.00,51.95h-3.0M303.00,35.86h-1.5M303.00,19.78h-3.0M303.00,3.70h-1.5" stroke="#787874" stroke-width="1" fill="none"/><text x="303.00" y="193.20" font-size="7.4" font-weight="bold" text-anchor="middle" fill="#111" stroke="#111" stroke-width="0.15">0</text><text x="363.43" y="193.20" font-size="7.4" font-weight="bold" text-anchor="middle" fill="#111" stroke="#111" stroke-width="0.15">1</text><text x="423.85" y="193.20" font-size="7.4" font-weight="bold" text-anchor="middle" fill="#111" stroke="#111" stroke-width="0.15">2</text><text x="484.28" y="193.20" font-size="7.4" font-weight="bold" text-anchor="middle" fill="#111" stroke="#111" stroke-width="0.15">3</text><text x="544.70" y="193.20" font-size="7.4" font-weight="bold" text-anchor="middle" fill="#111" stroke="#111" stroke-width="0.15">4</text><text x="298.00" y="183.80" font-size="7.4" font-weight="bold" text-anchor="end" fill="#111" stroke="#111" stroke-width="0.15">26</text><text x="298.00" y="151.64" font-size="7.4" font-weight="bold" text-anchor="end" fill="#111" stroke="#111" stroke-width="0.15">28</text><text x="298.00" y="119.47" font-size="7.4" font-weight="bold" text-anchor="end" fill="#111" stroke="#111" stroke-width="0.15">30</text><text x="298.00" y="87.31" font-size="7.4" font-weight="bold" text-anchor="end" fill="#111" stroke="#111" stroke-width="0.15">32</text><text x="298.00" y="55.15" font-size="7.4" font-weight="bold" text-anchor="end" fill="#111" stroke="#111" stroke-width="0.15">34</text><text x="298.00" y="22.98" font-size="7.4" font-weight="bold" text-anchor="end" fill="#111" stroke="#111" stroke-width="0.15">36</text><text x="423.35" y="204.80" font-size="8.6" font-weight="bold" text-anchor="middle" fill="#111" stroke="#111" stroke-width="0.2">ln(ε)</text><text transform="translate(287.20,92.15) rotate(-90)" font-size="8.6" font-weight="bold" text-anchor="middle" fill="#111" stroke="#111" stroke-width="0.2">ln(N)</text><text x="361.90" y="30.10" font-size="8.3" font-weight="bold" fill="#e03a3a" stroke="#e03a3a" stroke-width="0.2">y = -2.5454x+37.131</text><text x="377.70" y="40.70" font-size="8.3" font-weight="bold" fill="#e03a3a" stroke="#e03a3a" stroke-width="0.2">R<tspan font-size="5" dy="-3">2</tspan><tspan dy="3">= 0.9931</tspan></text><text x="310.00" y="82.30" font-size="8.3" font-weight="bold" fill="#1e8a50" stroke="#1e8a50" stroke-width="0.2">y = -2.8803x+37.068</text><text x="325.50" y="93.80" font-size="8.3" font-weight="bold" fill="#1e8a50" stroke="#1e8a50" stroke-width="0.2">R<tspan font-size="5" dy="-3">2</tspan><tspan dy="3">= 0.9932</tspan></text><text x="447.30" y="76.20" font-size="8.3" font-weight="bold" fill="#7a2a8a" stroke="#7a2a8a" stroke-width="0.2">y = -2.8683x+37.088</text><text x="463.30" y="86.90" font-size="8.3" font-weight="bold" fill="#7a2a8a" stroke="#7a2a8a" stroke-width="0.2">R<tspan font-size="5" dy="-3">2</tspan><tspan dy="3">= 0.9948</tspan></text><text x="355.80" y="113.20" font-size="8.3" font-weight="bold" fill="#28a0d6" stroke="#28a0d6" stroke-width="0.2">y = -2.6670x+36.534</text><text x="371.80" y="123.80" font-size="8.3" font-weight="bold" fill="#28a0d6" stroke="#28a0d6" stroke-width="0.2">R<tspan font-size="5" dy="-3">2</tspan><tspan dy="3">= 0.9948</tspan></text><text x="396.40" y="146.60" font-size="8.3" font-weight="bold" fill="#f0962a" stroke="#f0962a" stroke-width="0.2">y = -2.7583x+36.894</text><text x="411.80" y="157.50" font-size="8.3" font-weight="bold" fill="#f0962a" stroke="#f0962a" stroke-width="0.2">R<tspan font-size="5" dy="-3">2</tspan><tspan dy="3">= 0.9963</tspan></text><rect x="463.10" y="10.30" width="64.50" height="31.30" fill="#000"/><rect x="461.50" y="8.70" width="64.50" height="31.30" fill="#fff" stroke="#999" stroke-width="0.5"/><circle cx="469.50" cy="14.80" r="2.45" fill="#fff" stroke="#e3171e" stroke-width="0.6"/><path d="M469.50,12.35A2.45,2.45 0 0 0 469.50,17.25Z" fill="#e3171e"/><text x="479.00" y="17.70" font-size="7.9" fill="#1a1a1a">X-6</text><circle cx="501.80" cy="14.80" r="2.45" fill="#fff" stroke="#6e1a80" stroke-width="0.6"/><path d="M501.80,12.35A2.45,2.45 0 0 0 501.80,17.25Z" fill="#6e1a80"/><text x="511.00" y="17.70" font-size="7.9" fill="#1a1a1a">X-7</text><circle cx="469.50" cy="24.60" r="2.45" fill="#fff" stroke="#0f7d42" stroke-width="0.6"/><path d="M469.50,22.15A2.45,2.45 0 0 0 469.50,27.05Z" fill="#0f7d42"/><text x="479.00" y="27.50" font-size="7.9" fill="#1a1a1a">X-8</text><circle cx="501.80" cy="24.60" r="2.45" fill="#fff" stroke="#1ea2dc" stroke-width="0.6"/><path d="M501.80,22.15A2.45,2.45 0 0 0 501.80,27.05Z" fill="#1ea2dc"/><text x="511.00" y="27.50" font-size="7.9" fill="#1a1a1a">X-9</text><circle cx="469.50" cy="34.40" r="2.45" fill="#fff" stroke="#f5961e" stroke-width="0.6"/><path d="M469.50,31.95A2.45,2.45 0 0 0 469.50,36.85Z" fill="#f5961e"/><text x="479.00" y="37.30" font-size="7.9" fill="#1a1a1a">X-10</text><rect x="26.3" y="217.9" width="241.80" height="176.80" fill="url(#bg)"/><circle cx="52.11" cy="241.72" r="2.7" fill="#fff" stroke="#e3171e" stroke-width="0.6"/><path d="M52.11,239.02A2.7,2.7 0 0 0 52.11,244.42Z" fill="#e3171e"/><circle cx="55.77" cy="244.00" r="2.7" fill="#fff" stroke="#e3171e" stroke-width="0.6"/><path d="M55.77,241.30A2.7,2.7 0 0 0 55.77,246.70Z" fill="#e3171e"/><circle cx="59.43" cy="246.29" r="2.7" fill="#fff" stroke="#e3171e" stroke-width="0.6"/><path d="M59.43,243.59A2.7,2.7 0 0 0 59.43,248.99Z" fill="#e3171e"/><circle cx="63.08" cy="253.63" r="2.7" fill="#fff" stroke="#e3171e" stroke-width="0.6"/><path d="M63.08,250.93A2.7,2.7 0 0 0 63.08,256.33Z" fill="#e3171e"/><circle cx="66.74" cy="257.82" r="2.7" fill="#fff" stroke="#e3171e" stroke-width="0.6"/><path d="M66.74,255.12A2.7,2.7 0 0 0 66.74,260.52Z" fill="#e3171e"/><circle cx="70.40" cy="260.10" r="2.7" fill="#fff" stroke="#e3171e" stroke-width="0.6"/><path d="M70.40,257.40A2.7,2.7 0 0 0 70.40,262.80Z" fill="#e3171e"/><circle cx="74.06" cy="261.76" r="2.7" fill="#fff" stroke="#e3171e" stroke-width="0.6"/><path d="M74.06,259.06A2.7,2.7 0 0 0 74.06,264.46Z" fill="#e3171e"/><circle cx="77.71" cy="264.05" r="2.7" fill="#fff" stroke="#e3171e" stroke-width="0.6"/><path d="M77.71,261.35A2.7,2.7 0 0 0 77.71,266.75Z" fill="#e3171e"/><circle cx="81.37" cy="266.34" r="2.7" fill="#fff" stroke="#e3171e" stroke-width="0.6"/><path d="M81.37,263.64A2.7,2.7 0 0 0 81.37,269.04Z" fill="#e3171e"/><circle cx="85.03" cy="267.99" r="2.7" fill="#fff" stroke="#e3171e" stroke-width="0.6"/><path d="M85.03,265.29A2.7,2.7 0 0 0 85.03,270.69Z" fill="#e3171e"/><circle cx="93.70" cy="273.42" r="2.7" fill="#fff" stroke="#e3171e" stroke-width="0.6"/><path d="M93.70,270.72A2.7,2.7 0 0 0 93.70,276.12Z" fill="#e3171e"/><circle cx="103.07" cy="278.00" r="2.7" fill="#fff" stroke="#e3171e" stroke-width="0.6"/><path d="M103.07,275.30A2.7,2.7 0 0 0 103.07,280.70Z" fill="#e3171e"/><circle cx="113.35" cy="283.18" r="2.7" fill="#fff" stroke="#e3171e" stroke-width="0.6"/><path d="M113.35,280.48A2.7,2.7 0 0 0 113.35,285.88Z" fill="#e3171e"/><circle cx="127.25" cy="290.21" r="2.7" fill="#fff" stroke="#e3171e" stroke-width="0.6"/><path d="M127.25,287.51A2.7,2.7 0 0 0 127.25,292.91Z" fill="#e3171e"/><circle cx="144.18" cy="299.91" r="2.7" fill="#fff" stroke="#e3171e" stroke-width="0.6"/><path d="M144.18,297.21A2.7,2.7 0 0 0 144.18,302.61Z" fill="#e3171e"/><circle cx="168.96" cy="314.31" r="2.7" fill="#fff" stroke="#e3171e" stroke-width="0.6"/><path d="M168.96,311.61A2.7,2.7 0 0 0 168.96,317.01Z" fill="#e3171e"/><circle cx="224.88" cy="356.06" r="2.7" fill="#fff" stroke="#e3171e" stroke-width="0.6"/><path d="M224.88,353.36A2.7,2.7 0 0 0 224.88,358.76Z" fill="#e3171e"/><circle cx="52.11" cy="242.35" r="2.7" fill="#fff" stroke="#6e1a80" stroke-width="0.6"/><path d="M52.11,239.65A2.7,2.7 0 0 0 52.11,245.05Z" fill="#6e1a80"/><circle cx="55.77" cy="244.46" r="2.7" fill="#fff" stroke="#6e1a80" stroke-width="0.6"/><path d="M55.77,241.76A2.7,2.7 0 0 0 55.77,247.16Z" fill="#6e1a80"/><circle cx="59.43" cy="246.83" r="2.7" fill="#fff" stroke="#6e1a80" stroke-width="0.6"/><path d="M59.43,244.13A2.7,2.7 0 0 0 59.43,249.53Z" fill="#6e1a80"/><circle cx="63.08" cy="254.51" r="2.7" fill="#fff" stroke="#6e1a80" stroke-width="0.6"/><path d="M63.08,251.81A2.7,2.7 0 0 0 63.08,257.21Z" fill="#6e1a80"/><circle cx="66.74" cy="258.26" r="2.7" fill="#fff" stroke="#6e1a80" stroke-width="0.6"/><path d="M66.74,255.56A2.7,2.7 0 0 0 66.74,260.96Z" fill="#6e1a80"/><circle cx="70.40" cy="260.13" r="2.7" fill="#fff" stroke="#6e1a80" stroke-width="0.6"/><path d="M70.40,257.43A2.7,2.7 0 0 0 70.40,262.83Z" fill="#6e1a80"/><circle cx="74.06" cy="261.87" r="2.7" fill="#fff" stroke="#6e1a80" stroke-width="0.6"/><path d="M74.06,259.17A2.7,2.7 0 0 0 74.06,264.57Z" fill="#6e1a80"/><circle cx="77.71" cy="264.36" r="2.7" fill="#fff" stroke="#6e1a80" stroke-width="0.6"/><path d="M77.71,261.66A2.7,2.7 0 0 0 77.71,267.06Z" fill="#6e1a80"/><circle cx="81.37" cy="266.10" r="2.7" fill="#fff" stroke="#6e1a80" stroke-width="0.6"/><path d="M81.37,263.40A2.7,2.7 0 0 0 81.37,268.80Z" fill="#6e1a80"/><circle cx="85.03" cy="267.97" r="2.7" fill="#fff" stroke="#6e1a80" stroke-width="0.6"/><path d="M85.03,265.27A2.7,2.7 0 0 0 85.03,270.67Z" fill="#6e1a80"/><circle cx="93.70" cy="272.66" r="2.7" fill="#fff" stroke="#6e1a80" stroke-width="0.6"/><path d="M93.70,269.96A2.7,2.7 0 0 0 93.70,275.36Z" fill="#6e1a80"/><circle cx="103.07" cy="277.40" r="2.7" fill="#fff" stroke="#6e1a80" stroke-width="0.6"/><path d="M103.07,274.70A2.7,2.7 0 0 0 103.07,280.10Z" fill="#6e1a80"/><circle cx="113.35" cy="282.47" r="2.7" fill="#fff" stroke="#6e1a80" stroke-width="0.6"/><path d="M113.35,279.77A2.7,2.7 0 0 0 113.35,285.17Z" fill="#6e1a80"/><circle cx="127.25" cy="289.18" r="2.7" fill="#fff" stroke="#6e1a80" stroke-width="0.6"/><path d="M127.25,286.48A2.7,2.7 0 0 0 127.25,291.88Z" fill="#6e1a80"/><circle cx="144.18" cy="298.60" r="2.7" fill="#fff" stroke="#6e1a80" stroke-width="0.6"/><path d="M144.18,295.90A2.7,2.7 0 0 0 144.18,301.30Z" fill="#6e1a80"/><circle cx="168.96" cy="312.62" r="2.7" fill="#fff" stroke="#6e1a80" stroke-width="0.6"/><path d="M168.96,309.92A2.7,2.7 0 0 0 168.96,315.32Z" fill="#6e1a80"/><circle cx="222.76" cy="352.65" r="2.7" fill="#fff" stroke="#6e1a80" stroke-width="0.6"/><path d="M222.76,349.95A2.7,2.7 0 0 0 222.76,355.35Z" fill="#6e1a80"/><circle cx="52.11" cy="238.86" r="2.7" fill="#fff" stroke="#0f7d42" stroke-width="0.6"/><path d="M52.11,236.16A2.7,2.7 0 0 0 52.11,241.56Z" fill="#0f7d42"/><circle cx="55.77" cy="240.94" r="2.7" fill="#fff" stroke="#0f7d42" stroke-width="0.6"/><path d="M55.77,238.24A2.7,2.7 0 0 0 55.77,243.64Z" fill="#0f7d42"/><circle cx="59.43" cy="243.02" r="2.7" fill="#fff" stroke="#0f7d42" stroke-width="0.6"/><path d="M59.43,240.32A2.7,2.7 0 0 0 59.43,245.72Z" fill="#0f7d42"/><circle cx="63.08" cy="246.36" r="2.7" fill="#fff" stroke="#0f7d42" stroke-width="0.6"/><path d="M63.08,243.66A2.7,2.7 0 0 0 63.08,249.06Z" fill="#0f7d42"/><circle cx="66.74" cy="252.23" r="2.7" fill="#fff" stroke="#0f7d42" stroke-width="0.6"/><path d="M66.74,249.53A2.7,2.7 0 0 0 66.74,254.93Z" fill="#0f7d42"/><circle cx="70.40" cy="254.31" r="2.7" fill="#fff" stroke="#0f7d42" stroke-width="0.6"/><path d="M70.40,251.61A2.7,2.7 0 0 0 70.40,257.01Z" fill="#0f7d42"/><circle cx="74.06" cy="256.39" r="2.7" fill="#fff" stroke="#0f7d42" stroke-width="0.6"/><path d="M74.06,253.69A2.7,2.7 0 0 0 74.06,259.09Z" fill="#0f7d42"/><circle cx="77.71" cy="258.47" r="2.7" fill="#fff" stroke="#0f7d42" stroke-width="0.6"/><path d="M77.71,255.77A2.7,2.7 0 0 0 77.71,261.17Z" fill="#0f7d42"/><circle cx="81.37" cy="260.54" r="2.7" fill="#fff" stroke="#0f7d42" stroke-width="0.6"/><path d="M81.37,257.84A2.7,2.7 0 0 0 81.37,263.24Z" fill="#0f7d42"/><circle cx="85.03" cy="263.25" r="2.7" fill="#fff" stroke="#0f7d42" stroke-width="0.6"/><path d="M85.03,260.55A2.7,2.7 0 0 0 85.03,265.95Z" fill="#0f7d42"/><circle cx="93.70" cy="267.55" r="2.7" fill="#fff" stroke="#0f7d42" stroke-width="0.6"/><path d="M93.70,264.85A2.7,2.7 0 0 0 93.70,270.25Z" fill="#0f7d42"/><circle cx="103.07" cy="271.27" r="2.7" fill="#fff" stroke="#0f7d42" stroke-width="0.6"/><path d="M103.07,268.57A2.7,2.7 0 0 0 103.07,273.97Z" fill="#0f7d42"/><circle cx="113.35" cy="276.16" r="2.7" fill="#fff" stroke="#0f7d42" stroke-width="0.6"/><path d="M113.35,273.46A2.7,2.7 0 0 0 113.35,278.86Z" fill="#0f7d42"/><circle cx="127.25" cy="282.98" r="2.7" fill="#fff" stroke="#0f7d42" stroke-width="0.6"/><path d="M127.25,280.28A2.7,2.7 0 0 0 127.25,285.68Z" fill="#0f7d42"/><circle cx="144.18" cy="292.37" r="2.7" fill="#fff" stroke="#0f7d42" stroke-width="0.6"/><path d="M144.18,289.67A2.7,2.7 0 0 0 144.18,295.07Z" fill="#0f7d42"/><circle cx="168.96" cy="306.31" r="2.7" fill="#fff" stroke="#0f7d42" stroke-width="0.6"/><path d="M168.96,303.61A2.7,2.7 0 0 0 168.96,309.01Z" fill="#0f7d42"/><circle cx="223.97" cy="342.04" r="2.7" fill="#fff" stroke="#0f7d42" stroke-width="0.6"/><path d="M223.97,339.34A2.7,2.7 0 0 0 223.97,344.74Z" fill="#0f7d42"/><circle cx="52.11" cy="237.98" r="2.7" fill="#fff" stroke="#1ea2dc" stroke-width="0.6"/><path d="M52.11,235.28A2.7,2.7 0 0 0 52.11,240.68Z" fill="#1ea2dc"/><circle cx="55.77" cy="240.16" r="2.7" fill="#fff" stroke="#1ea2dc" stroke-width="0.6"/><path d="M55.77,237.46A2.7,2.7 0 0 0 55.77,242.86Z" fill="#1ea2dc"/><circle cx="59.43" cy="242.20" r="2.7" fill="#fff" stroke="#1ea2dc" stroke-width="0.6"/><path d="M59.43,239.50A2.7,2.7 0 0 0 59.43,244.90Z" fill="#1ea2dc"/><circle cx="63.08" cy="245.76" r="2.7" fill="#fff" stroke="#1ea2dc" stroke-width="0.6"/><path d="M63.08,243.06A2.7,2.7 0 0 0 63.08,248.46Z" fill="#1ea2dc"/><circle cx="66.74" cy="251.60" r="2.7" fill="#fff" stroke="#1ea2dc" stroke-width="0.6"/><path d="M66.74,248.90A2.7,2.7 0 0 0 66.74,254.30Z" fill="#1ea2dc"/><circle cx="70.40" cy="253.77" r="2.7" fill="#fff" stroke="#1ea2dc" stroke-width="0.6"/><path d="M70.40,251.07A2.7,2.7 0 0 0 70.40,256.47Z" fill="#1ea2dc"/><circle cx="74.06" cy="255.44" r="2.7" fill="#fff" stroke="#1ea2dc" stroke-width="0.6"/><path d="M74.06,252.74A2.7,2.7 0 0 0 74.06,258.14Z" fill="#1ea2dc"/><circle cx="77.71" cy="257.73" r="2.7" fill="#fff" stroke="#1ea2dc" stroke-width="0.6"/><path d="M77.71,255.03A2.7,2.7 0 0 0 77.71,260.43Z" fill="#1ea2dc"/><circle cx="81.37" cy="260.03" r="2.7" fill="#fff" stroke="#1ea2dc" stroke-width="0.6"/><path d="M81.37,257.33A2.7,2.7 0 0 0 81.37,262.73Z" fill="#1ea2dc"/><circle cx="85.03" cy="262.96" r="2.7" fill="#fff" stroke="#1ea2dc" stroke-width="0.6"/><path d="M85.03,260.26A2.7,2.7 0 0 0 85.03,265.66Z" fill="#1ea2dc"/><circle cx="93.70" cy="266.93" r="2.7" fill="#fff" stroke="#1ea2dc" stroke-width="0.6"/><path d="M93.70,264.23A2.7,2.7 0 0 0 93.70,269.63Z" fill="#1ea2dc"/><circle cx="103.07" cy="270.45" r="2.7" fill="#fff" stroke="#1ea2dc" stroke-width="0.6"/><path d="M103.07,267.75A2.7,2.7 0 0 0 103.07,273.15Z" fill="#1ea2dc"/><circle cx="113.35" cy="275.28" r="2.7" fill="#fff" stroke="#1ea2dc" stroke-width="0.6"/><path d="M113.35,272.58A2.7,2.7 0 0 0 113.35,277.98Z" fill="#1ea2dc"/><circle cx="127.25" cy="282.04" r="2.7" fill="#fff" stroke="#1ea2dc" stroke-width="0.6"/><path d="M127.25,279.34A2.7,2.7 0 0 0 127.25,284.74Z" fill="#1ea2dc"/><circle cx="144.18" cy="291.29" r="2.7" fill="#fff" stroke="#1ea2dc" stroke-width="0.6"/><path d="M144.18,288.59A2.7,2.7 0 0 0 144.18,293.99Z" fill="#1ea2dc"/><circle cx="168.96" cy="305.00" r="2.7" fill="#fff" stroke="#1ea2dc" stroke-width="0.6"/><path d="M168.96,302.30A2.7,2.7 0 0 0 168.96,307.70Z" fill="#1ea2dc"/><circle cx="224.88" cy="340.65" r="2.7" fill="#fff" stroke="#1ea2dc" stroke-width="0.6"/><path d="M224.88,337.95A2.7,2.7 0 0 0 224.88,343.35Z" fill="#1ea2dc"/><circle cx="52.11" cy="263.68" r="2.7" fill="#fff" stroke="#f5961e" stroke-width="0.6"/><path d="M52.11,260.98A2.7,2.7 0 0 0 52.11,266.38Z" fill="#f5961e"/><circle cx="55.77" cy="266.00" r="2.7" fill="#fff" stroke="#f5961e" stroke-width="0.6"/><path d="M55.77,263.30A2.7,2.7 0 0 0 55.77,268.70Z" fill="#f5961e"/><circle cx="59.43" cy="268.31" r="2.7" fill="#fff" stroke="#f5961e" stroke-width="0.6"/><path d="M59.43,265.61A2.7,2.7 0 0 0 59.43,271.01Z" fill="#f5961e"/><circle cx="63.08" cy="270.63" r="2.7" fill="#fff" stroke="#f5961e" stroke-width="0.6"/><path d="M63.08,267.93A2.7,2.7 0 0 0 63.08,273.33Z" fill="#f5961e"/><circle cx="66.74" cy="272.95" r="2.7" fill="#fff" stroke="#f5961e" stroke-width="0.6"/><path d="M66.74,270.25A2.7,2.7 0 0 0 66.74,275.65Z" fill="#f5961e"/><circle cx="70.40" cy="275.26" r="2.7" fill="#fff" stroke="#f5961e" stroke-width="0.6"/><path d="M70.40,272.56A2.7,2.7 0 0 0 70.40,277.96Z" fill="#f5961e"/><circle cx="74.06" cy="277.58" r="2.7" fill="#fff" stroke="#f5961e" stroke-width="0.6"/><path d="M74.06,274.88A2.7,2.7 0 0 0 74.06,280.28Z" fill="#f5961e"/><circle cx="77.71" cy="279.89" r="2.7" fill="#fff" stroke="#f5961e" stroke-width="0.6"/><path d="M77.71,277.19A2.7,2.7 0 0 0 77.71,282.59Z" fill="#f5961e"/><circle cx="81.37" cy="282.21" r="2.7" fill="#fff" stroke="#f5961e" stroke-width="0.6"/><path d="M81.37,279.51A2.7,2.7 0 0 0 81.37,284.91Z" fill="#f5961e"/><circle cx="85.03" cy="284.53" r="2.7" fill="#fff" stroke="#f5961e" stroke-width="0.6"/><path d="M85.03,281.83A2.7,2.7 0 0 0 85.03,287.23Z" fill="#f5961e"/><circle cx="93.70" cy="290.02" r="2.7" fill="#fff" stroke="#f5961e" stroke-width="0.6"/><path d="M93.70,287.32A2.7,2.7 0 0 0 93.70,292.72Z" fill="#f5961e"/><circle cx="103.07" cy="295.96" r="2.7" fill="#fff" stroke="#f5961e" stroke-width="0.6"/><path d="M103.07,293.26A2.7,2.7 0 0 0 103.07,298.66Z" fill="#f5961e"/><circle cx="113.35" cy="302.09" r="2.7" fill="#fff" stroke="#f5961e" stroke-width="0.6"/><path d="M113.35,299.39A2.7,2.7 0 0 0 113.35,304.79Z" fill="#f5961e"/><circle cx="127.25" cy="310.28" r="2.7" fill="#fff" stroke="#f5961e" stroke-width="0.6"/><path d="M127.25,307.58A2.7,2.7 0 0 0 127.25,312.98Z" fill="#f5961e"/><circle cx="144.18" cy="320.25" r="2.7" fill="#fff" stroke="#f5961e" stroke-width="0.6"/><path d="M144.18,317.55A2.7,2.7 0 0 0 144.18,322.95Z" fill="#f5961e"/><circle cx="168.96" cy="334.86" r="2.7" fill="#fff" stroke="#f5961e" stroke-width="0.6"/><path d="M168.96,332.16A2.7,2.7 0 0 0 168.96,337.56Z" fill="#f5961e"/><circle cx="223.97" cy="371.72" r="2.7" fill="#fff" stroke="#f5961e" stroke-width="0.6"/><path d="M223.97,369.02A2.7,2.7 0 0 0 223.97,374.42Z" fill="#f5961e"/><line x1="52.11" y1="265.52" x2="223.97" y2="368.39" stroke="#f5961e" stroke-width="1.25"/><line x1="52.11" y1="245.50" x2="224.88" y2="353.61" stroke="#e3171e" stroke-width="1.25"/><line x1="52.11" y1="245.63" x2="222.76" y2="350.31" stroke="#6e1a80" stroke-width="1.25"/><line x1="52.11" y1="242.65" x2="223.97" y2="340.34" stroke="#0f7d42" stroke-width="1.25"/><line x1="52.11" y1="242.66" x2="224.88" y2="339.30" stroke="#1ea2dc" stroke-width="1.25"/><rect x="26.3" y="217.9" width="241.80" height="176.80" fill="none" stroke="#787874" stroke-width="1.35"/><path d="M26.30,394.70v3.0M56.53,394.70v1.5M86.75,394.70v3.0M116.98,394.70v1.5M147.20,394.70v3.0M177.43,394.70v1.5M207.65,394.70v3.0M237.88,394.70v1.5M268.10,394.70v3.0M26.30,394.70h-3.0M26.30,382.07h-1.5M26.30,369.44h-3.0M26.30,356.81h-1.5M26.30,344.19h-3.0M26.30,331.56h-1.5M26.30,318.93h-3.0M26.30,306.30h-1.5M26.30,293.67h-3.0M26.30,281.04h-1.5M26.30,268.41h-3.0M26.30,255.79h-1.5M26.30,243.16h-3.0M26.30,230.53h-1.5M26.30,217.90h-3.0" stroke="#787874" stroke-width="1" fill="none"/><text x="26.30" y="407.30" font-size="7.4" font-weight="bold" text-anchor="middle" fill="#111" stroke="#111" stroke-width="0.15">0</text><text x="86.75" y="407.30" font-size="7.4" font-weight="bold" text-anchor="middle" fill="#111" stroke="#111" stroke-width="0.15">1</text><text x="147.20" y="407.30" font-size="7.4" font-weight="bold" text-anchor="middle" fill="#111" stroke="#111" stroke-width="0.15">2</text><text x="207.65" y="407.30" font-size="7.4" font-weight="bold" text-anchor="middle" fill="#111" stroke="#111" stroke-width="0.15">3</text><text x="268.10" y="407.30" font-size="7.4" font-weight="bold" text-anchor="middle" fill="#111" stroke="#111" stroke-width="0.15">4</text><text x="21.30" y="397.90" font-size="7.4" font-weight="bold" text-anchor="end" fill="#111" stroke="#111" stroke-width="0.15">24</text><text x="21.30" y="372.64" font-size="7.4" font-weight="bold" text-anchor="end" fill="#111" stroke="#111" stroke-width="0.15">26</text><text x="21.30" y="347.39" font-size="7.4" font-weight="bold" text-anchor="end" fill="#111" stroke="#111" stroke-width="0.15">28</text><text x="21.30" y="322.13" font-size="7.4" font-weight="bold" text-anchor="end" fill="#111" stroke="#111" stroke-width="0.15">30</text><text x="21.30" y="296.87" font-size="7.4" font-weight="bold" text-anchor="end" fill="#111" stroke="#111" stroke-width="0.15">32</text><text x="21.30" y="271.61" font-size="7.4" font-weight="bold" text-anchor="end" fill="#111" stroke="#111" stroke-width="0.15">34</text><text x="21.30" y="246.36" font-size="7.4" font-weight="bold" text-anchor="end" fill="#111" stroke="#111" stroke-width="0.15">36</text><text x="21.30" y="221.10" font-size="7.4" font-weight="bold" text-anchor="end" fill="#111" stroke="#111" stroke-width="0.15">38</text><text x="146.70" y="418.90" font-size="8.6" font-weight="bold" text-anchor="middle" fill="#111" stroke="#111" stroke-width="0.2">ln(ε)</text><text transform="translate(10.20,306.30) rotate(-90)" font-size="8.6" font-weight="bold" text-anchor="middle" fill="#111" stroke="#111" stroke-width="0.2">ln(N)</text><text x="85.00" y="244.10" font-size="8.3" font-weight="bold" fill="#e03a3a" stroke="#e03a3a" stroke-width="0.2">y = -2.9951x+37.093</text><text x="101.40" y="255.10" font-size="8.3" font-weight="bold" fill="#e03a3a" stroke="#e03a3a" stroke-width="0.2">R<tspan font-size="5" dy="-3">2</tspan><tspan dy="3">= 0.9883</tspan></text><text x="165.30" y="288.70" font-size="8.3" font-weight="bold" fill="#7a2a8a" stroke="#7a2a8a" stroke-width="0.2">y = -2.9362x+37.058</text><text x="181.40" y="300.20" font-size="8.3" font-weight="bold" fill="#7a2a8a" stroke="#7a2a8a" stroke-width="0.2">R<tspan font-size="5" dy="-3">2</tspan><tspan dy="3">= 0.9911</tspan></text><text x="30.00" y="314.80" font-size="8.3" font-weight="bold" fill="#1e8a50" stroke="#1e8a50" stroke-width="0.2">y = -2.721x+37.202</text><text x="44.50" y="325.10" font-size="8.3" font-weight="bold" fill="#1e8a50" stroke="#1e8a50" stroke-width="0.2">R<tspan font-size="5" dy="-3">2</tspan><tspan dy="3">= 0.9897</tspan></text><text x="66.90" y="345.50" font-size="8.3" font-weight="bold" fill="#28a0d6" stroke="#28a0d6" stroke-width="0.2">y = -2.6776x+37.183</text><text x="82.70" y="356.60" font-size="8.3" font-weight="bold" fill="#28a0d6" stroke="#28a0d6" stroke-width="0.2">R<tspan font-size="5" dy="-3">2</tspan><tspan dy="3">= 0.9914</tspan></text><text x="118.70" y="373.30" font-size="8.3" font-weight="bold" fill="#f0962a" stroke="#f0962a" stroke-width="0.2">y = -2.8654x+35.453</text><text x="134.50" y="384.20" font-size="8.3" font-weight="bold" fill="#f0962a" stroke="#f0962a" stroke-width="0.2">R<tspan font-size="5" dy="-3">2</tspan><tspan dy="3">= 0.9960</tspan></text><rect x="181.20" y="224.80" width="68.70" height="31.10" fill="#000"/><rect x="179.60" y="223.20" width="68.70" height="31.10" fill="#fff" stroke="#999" stroke-width="0.5"/><circle cx="188.10" cy="227.80" r="2.45" fill="#fff" stroke="#e3171e" stroke-width="0.6"/><path d="M188.10,225.35A2.45,2.45 0 0 0 188.10,230.25Z" fill="#e3171e"/><text x="196.30" y="230.70" font-size="7.9" fill="#1a1a1a">X-11</text><circle cx="220.00" cy="227.80" r="2.45" fill="#fff" stroke="#6e1a80" stroke-width="0.6"/><path d="M220.00,225.35A2.45,2.45 0 0 0 220.00,230.25Z" fill="#6e1a80"/><text x="229.00" y="230.70" font-size="7.9" fill="#1a1a1a">X-12</text><circle cx="188.10" cy="238.40" r="2.45" fill="#fff" stroke="#0f7d42" stroke-width="0.6"/><path d="M188.10,235.95A2.45,2.45 0 0 0 188.10,240.85Z" fill="#0f7d42"/><text x="196.30" y="241.30" font-size="7.9" fill="#1a1a1a">X-13</text><circle cx="220.00" cy="238.40" r="2.45" fill="#fff" stroke="#1ea2dc" stroke-width="0.6"/><path d="M220.00,235.95A2.45,2.45 0 0 0 220.00,240.85Z" fill="#1ea2dc"/><text x="229.00" y="241.30" font-size="7.9" fill="#1a1a1a">X-14</text><circle cx="188.10" cy="248.50" r="2.45" fill="#fff" stroke="#f5961e" stroke-width="0.6"/><path d="M188.10,246.05A2.45,2.45 0 0 0 188.10,250.95Z" fill="#f5961e"/><text x="196.30" y="251.40" font-size="7.9" fill="#1a1a1a">X-15</text></svg></body></html>
